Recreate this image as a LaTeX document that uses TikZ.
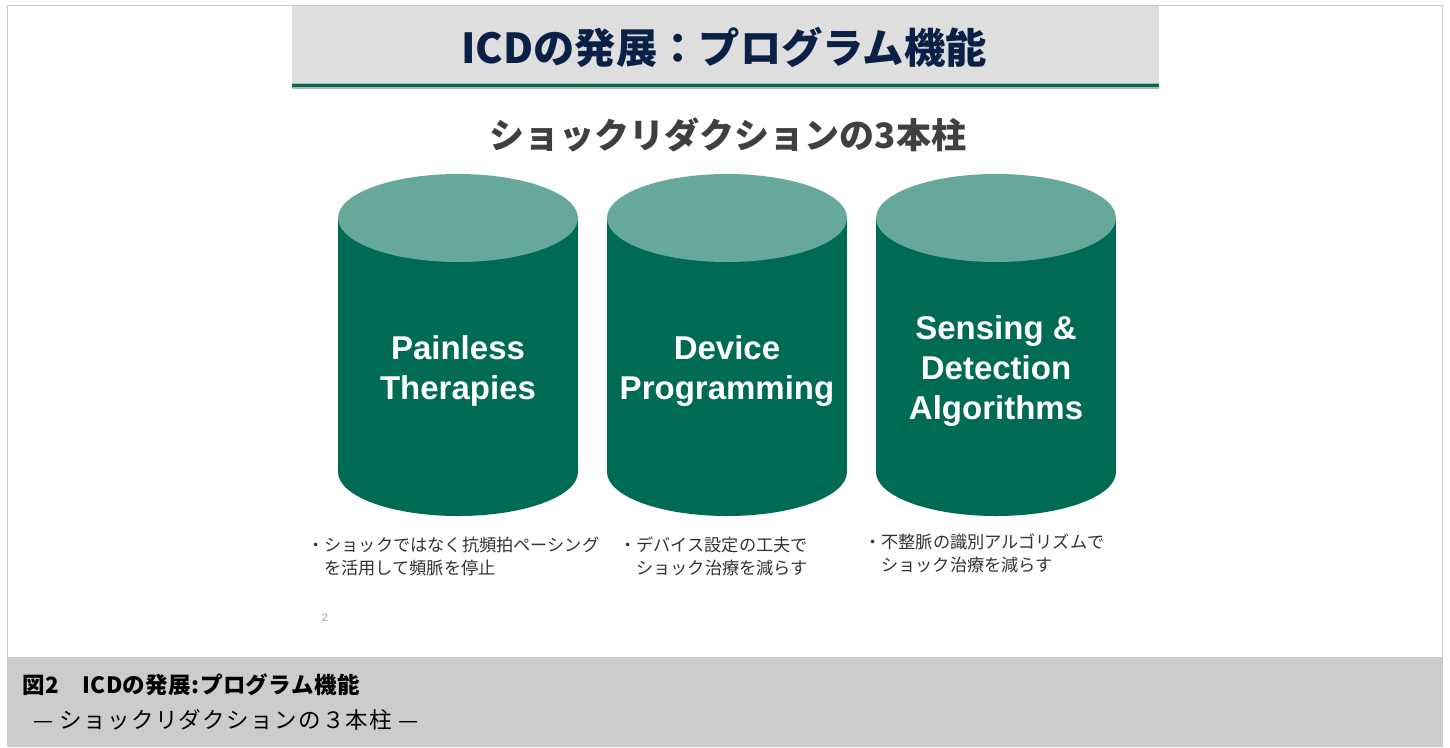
\documentclass[tikz,border=0pt]{standalone}
\usepackage{fontspec}
\setmainfont{Liberation Sans}
\newfontfamily\jpfont{Noto Sans CJK JP}
\definecolor{pillargreen}{HTML}{006B54}
\definecolor{pillarlight}{HTML}{66A89A}
\definecolor{titlenavy}{HTML}{0B2046}
\definecolor{subgray}{HTML}{404040}
\definecolor{notegray}{HTML}{333333}
\definecolor{bandgray}{HTML}{DEDEDE}
\definecolor{captiongray}{HTML}{CCCCCC}
\definecolor{framegray}{HTML}{C8C8C8}

\begin{document}
\begin{tikzpicture}[x=1pt, y=-1pt,
    pillarlabel/.style={text=white, align=center, font=\fontsize{33}{40}\selectfont\bfseries},
    bulletnote/.style={anchor=north west, inner sep=0pt, align=left, text=notegray,
      font=\jpfont\fontsize{17.2}{23}\selectfont},
    captionline/.style={anchor=west, inner sep=0pt, text=black}]
    \useasboundingbox (0,0) rectangle (1450,747);

    % Frame and bands
    \fill[white] (0,0) rectangle (1450,747);
    \draw[framegray] (7.5,657) -- (7.5,5.5) -- (1442.5,5.5) -- (1442.5,657);
    \fill[bandgray] (292,6) rectangle (1159,83);
    \fill[pillarlight!60!bandgray] (292,83) rectangle (1159,84);
    \fill[pillargreen] (292,84) rectangle (1159,87);
    \fill[black!30] (292,87) rectangle (1159,89);
    \fill[captiongray] (7,657) rectangle (1443,747);

    % Titles
    \node[text=titlenavy, font=\jpfont\fontsize{41.3}{44}\selectfont\bfseries] (title) at (724,47)
      {ICDの発展：プログラム機能};
    \node[text=subgray, font=\jpfont\fontsize{35}{40}\selectfont\bfseries] (subtitle) at (728,135)
      {ショックリダクションの3本柱};

    % Draw the three pillars
    \foreach \cx/\name in {458/painless, 727/device, 996/sensing} {
      \fill[pillargreen] (\cx-120,218) rectangle (\cx+120,472);
      \fill[pillargreen] (\cx,472) ellipse (120 and 44);
      \fill[pillarlight] (\cx,218) ellipse (120 and 44);
      \coordinate (\name) at (\cx,371);
    }

    % Labels
    \node[pillarlabel] (painlesstext) at (painless) {Painless\\Therapies};
    \node[pillarlabel] (devicetext) at (device) {Device\\Programming};
    \node[pillarlabel] (sensingtext) at (sensing) {Sensing \&\\Detection\\Algorithms};

    % Notes below the pillars
    \node[bulletnote] (note1) at (307,536.5)
      {・ショックではなく抗頻拍ペーシング\\\hspace*{17pt}を活用して頻脈を停止};
    \node[bulletnote] (note2) at (619,536.5)
      {・デバイス設定の工夫で\\\hspace*{17pt}ショック治療を減らす};
    \node[bulletnote] (note3) at (864,533.5)
      {・不整脈の識別アルゴリズムで\\\hspace*{17pt}ショック治療を減らす};
    \node[text=black!35, font=\fontsize{11}{12}\selectfont] (pagenum) at (325,618) {2};

    % Caption
    \node[captionline, font=\jpfont\fontsize{22.5}{26}\selectfont\bfseries\addfontfeature{LetterSpace=2}]
      (caption1) at (22,685) {図2　ICDの発展:プログラム機能};
    \node[captionline, font=\jpfont\fontsize{22.5}{26}\selectfont\addfontfeature{LetterSpace=6}]
      (caption2) at (33,720) {— ショックリダクションの３本柱 —};
\end{tikzpicture}
\end{document}
